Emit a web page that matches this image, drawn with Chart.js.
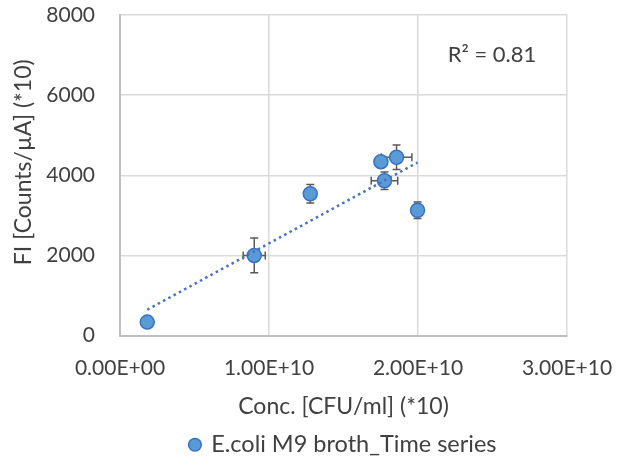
<!DOCTYPE html>
<html>
<head>
<meta charset="utf-8">
<script src="https://cdn.jsdelivr.net/npm/chart.js@4.4.1/dist/chart.umd.min.js"></script>
<style>
  html, body { margin: 0; padding: 0; background: #fff; }
  #wrap { width: 623px; height: 457px; }
</style>
</head>
<body>
<div id="wrap"><canvas id="chart" width="623" height="457"></canvas></div>
<script>
// E.coli M9 broth, time series: concentration vs fluorescence intensity
const concValues = [0.183e10, 0.901e10, 1.277e10, 1.751e10, 1.775e10, 1.856e10, 1.997e10];
const fiValues = [334, 1999, 3536, 4339, 3862, 4447, 3127];
const concErrors = [0, 0.074e10, 0, 0, 0.089e10, 0.103e10, 0];
const fiErrors = [0, 433, 230, 0, 217, 305, 205];

const xTicks = [0, 1e10, 2e10, 3e10];
const yTicks = [0, 2000, 4000, 6000, 8000];

const seriesName = "E.coli M9 broth_Time series";
const xTitle = "Conc. [CFU/ml] (*10)";
const yTitle = "FI [Counts/\u00b5A] (*10)";

const FONT = "Lato, 'Open Sans', sans-serif";
const TEXT = "#404040";

// least squares fit for the trendline
function linearFit(xs, ys) {
  const n = xs.length;
  const mx = xs.reduce((a, b) => a + b, 0) / n;
  const my = ys.reduce((a, b) => a + b, 0) / n;
  let sxy = 0, sxx = 0, syy = 0;
  for (let i = 0; i < n; i++) {
    sxy += (xs[i] - mx) * (ys[i] - my);
    sxx += (xs[i] - mx) ** 2;
    syy += (ys[i] - my) ** 2;
  }
  const slope = sxy / sxx;
  return { slope, intercept: my - slope * mx, r2: (sxy * sxy) / (sxx * syy) };
}

const fit = linearFit(concValues, fiValues);
const xMin = Math.min(...concValues);
const xMax = Math.max(...concValues);
const trendPoints = [xMin, xMax].map((x) => ({ x, y: fit.intercept + fit.slope * x }));

function sci(v) {
  const [m, e] = Number(v).toExponential(2).split("e");
  const sign = e[0] === "-" ? "-" : "+";
  const digits = e.replace(/[+-]/, "").padStart(2, "0");
  return m + "E" + sign + digits;
}

// error bars under the markers
const errorBars = {
  id: "errorBars",
  beforeDatasetsDraw(chart) {
    const { ctx, scales: { x, y } } = chart;
    const cap = 4;
    ctx.save();
    ctx.strokeStyle = "#595959";
    ctx.lineWidth = 1.5;
    concValues.forEach((cx, i) => {
      const px = x.getPixelForValue(cx);
      const py = y.getPixelForValue(fiValues[i]);
      ctx.beginPath();
      if (fiErrors[i] > 0) {
        const y1 = y.getPixelForValue(fiValues[i] + fiErrors[i]);
        const y2 = y.getPixelForValue(fiValues[i] - fiErrors[i]);
        ctx.moveTo(px, y1); ctx.lineTo(px, y2);
        ctx.moveTo(px - cap, y1); ctx.lineTo(px + cap, y1);
        ctx.moveTo(px - cap, y2); ctx.lineTo(px + cap, y2);
      }
      if (concErrors[i] > 0) {
        const x1 = x.getPixelForValue(cx - concErrors[i]);
        const x2 = x.getPixelForValue(cx + concErrors[i]);
        ctx.moveTo(x1, py); ctx.lineTo(x2, py);
        ctx.moveTo(x1, py - cap); ctx.lineTo(x1, py + cap);
        ctx.moveTo(x2, py - cap); ctx.lineTo(x2, py + cap);
      }
      ctx.stroke();
    });
    ctx.restore();
  },
};

// R² label and the two axis titles
const annotations = {
  id: "annotations",
  afterDraw(chart) {
    const { ctx, chartArea } = chart;
    const midX = (chartArea.left + chartArea.right) / 2;
    const midY = (chartArea.top + chartArea.bottom) / 2;
    ctx.save();
    ctx.fillStyle = TEXT;
    ctx.textAlign = "center";
    ctx.textBaseline = "middle";
    ctx.font = "22px " + FONT;
    ctx.fillText("R\u00b2 = " + fit.r2.toFixed(2), chartArea.right - 75, chartArea.top + 40);
    ctx.font = "23px " + FONT;
    ctx.fillText(xTitle, midX, chartArea.bottom + 71);
    ctx.translate(24, midY - 13);
    ctx.rotate(-Math.PI / 2);
    ctx.fillText(yTitle, 0, 0);
    ctx.restore();
  },
};

new Chart(document.getElementById("chart"), {
  type: "scatter",
  data: {
    datasets: [
      {
        label: seriesName,
        data: concValues.map((x, i) => ({ x, y: fiValues[i] })),
        backgroundColor: "#5B9BD5",
        borderColor: "#3572C6",
        borderWidth: 1.5,
        pointRadius: 7,
        pointHoverRadius: 7,
        order: 1,
      },
      {
        type: "line",
        label: "trend",
        data: trendPoints,
        borderColor: "#4472C4",
        borderWidth: 2.5,
        borderDash: [2.5, 3.5],
        pointRadius: 0,
        fill: false,
        order: 0,
      },
    ],
  },
  options: {
    responsive: false,
    animation: false,
    layout: { padding: { left: 0, right: 56, top: 15, bottom: -9.5 } },
    plugins: {
      tooltip: { enabled: false },
      legend: {
        position: "bottom",
        fullSize: false,
        labels: {
          filter: (item) => item.datasetIndex === 0,
          usePointStyle: true,
          pointStyle: "circle",
          boxWidth: 9,
          boxHeight: 9,
          padding: 2,
          color: TEXT,
          font: { family: FONT, size: 23.5 },
        },
      },
    },
    scales: {
      x: {
        type: "linear",
        min: 0,
        max: 3e10,
        afterBuildTicks: (s) => { s.ticks = xTicks.map((v) => ({ value: v })); },
        afterFit: (s) => { s.height = 95.5; },
        ticks: {
          padding: 0,
          color: TEXT,
          font: { family: FONT, size: 21 },
          callback: (v) => sci(v),
        },
        grid: { color: "#d9d9d9", lineWidth: 1.5, drawTicks: true, tickLength: 20, tickColor: "transparent" },
        border: { color: "#bfbfbf", width: 2 },
      },
      y: {
        min: 0,
        max: 8000,
        afterBuildTicks: (s) => { s.ticks = yTicks.map((v) => ({ value: v })); },
        afterFit: (s) => { s.width = 120; },
        ticks: {
          padding: 0,
          color: TEXT,
          font: { family: FONT, size: 21 },
          callback: (v) => String(v),
        },
        grid: { color: "#d9d9d9", lineWidth: 1.5, drawTicks: true, tickLength: 25, tickColor: "transparent" },
        border: { color: "#bfbfbf", width: 2 },
      },
    },
  },
  plugins: [errorBars, annotations],
});
</script>
</body>
</html>
